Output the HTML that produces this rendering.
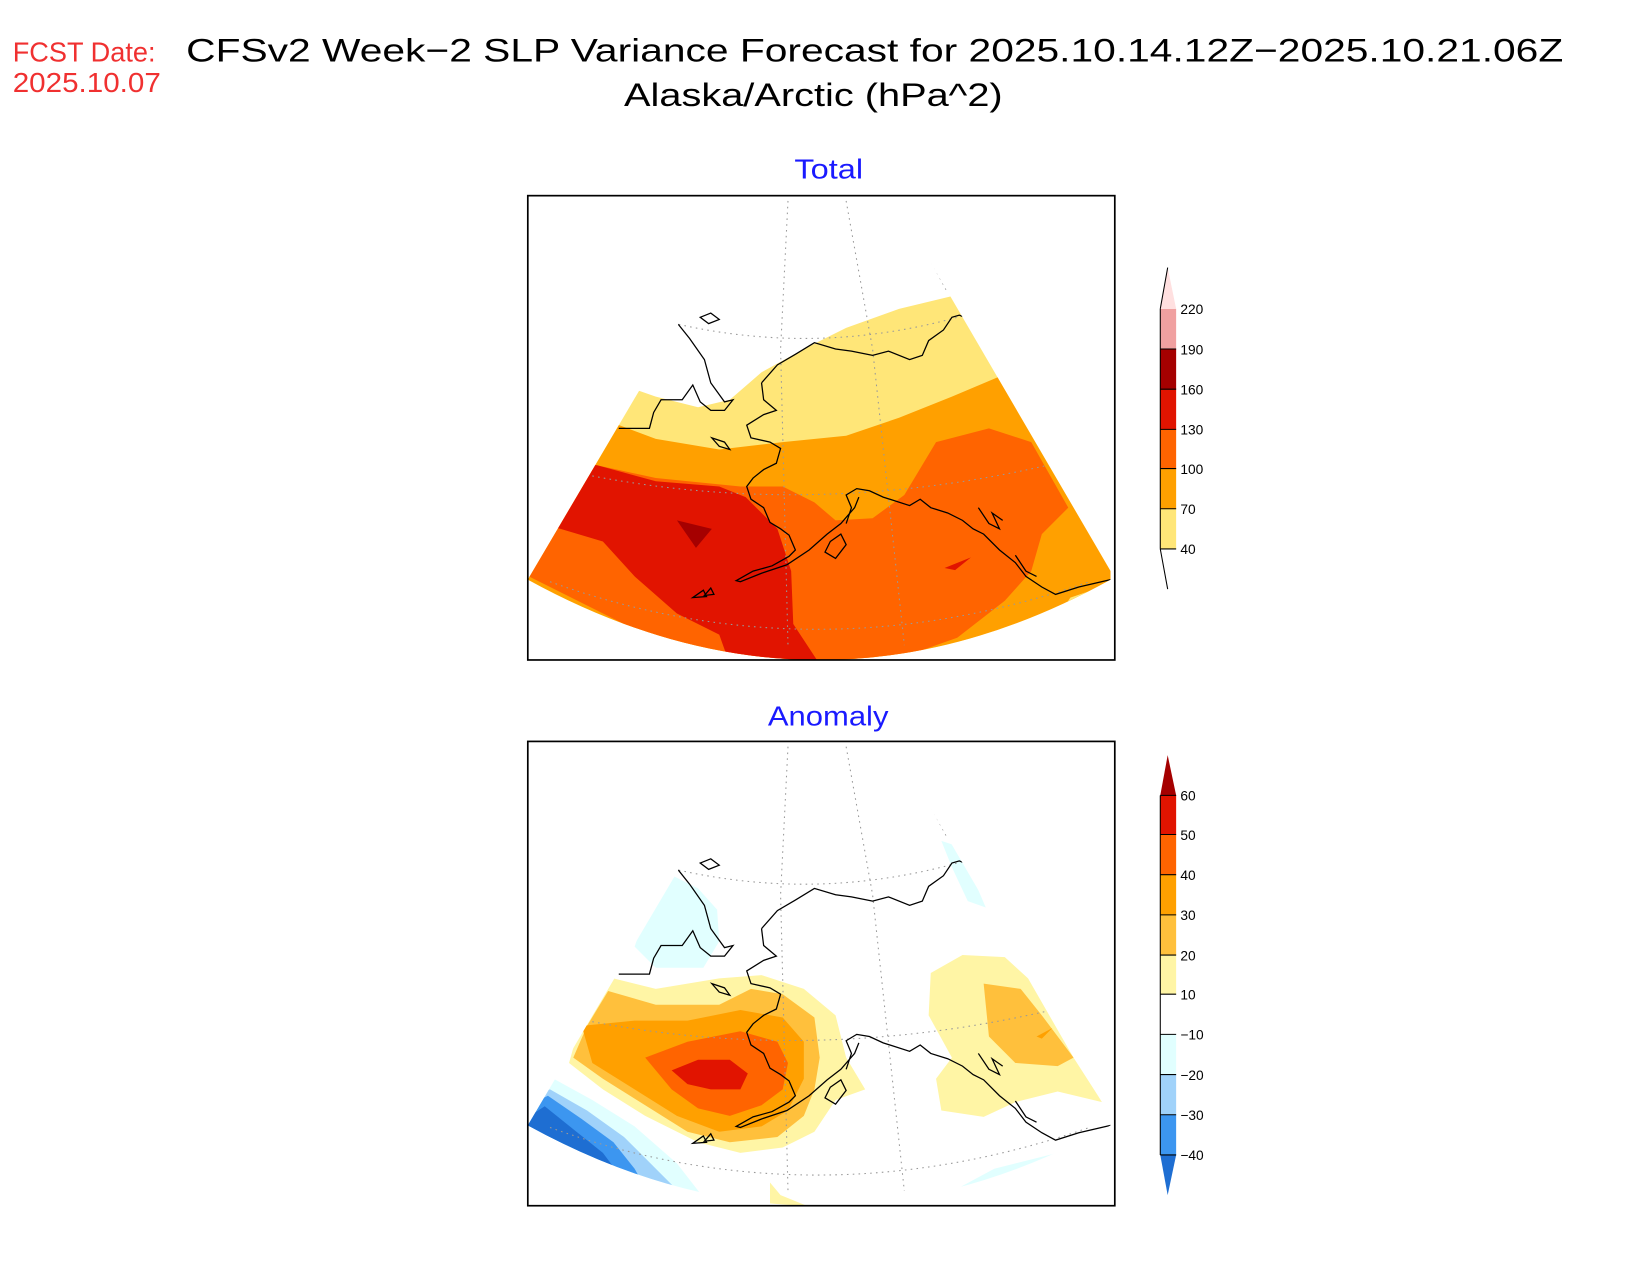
<!DOCTYPE html>
<html><head><meta charset="utf-8"><style>html,body{margin:0;padding:0;background:#fff}svg{display:block}</style></head>
<body>
<svg width="1650" height="1275" viewBox="0 0 1560 1205.5" xmlns="http://www.w3.org/2000/svg" font-family="Liberation Sans, DejaVu Sans, sans-serif">
<defs>
<clipPath id="w1"><path d="M713,185 L843,185 L1050,540 L1050,548 Q775,700 499,548 Z"/></clipPath>
<clipPath id="w2"><path d="M713,701 L843,701 L1050,1056 L1050,1064 Q775,1216 499,1064 Z"/></clipPath>
<g id="coast" fill="none" stroke="#000" stroke-width="1.2">
<polyline points="720,362 735,345 752,335 770,324 790,330 805,332 825,336 840,332 860,340 872,336 878,322 892,312 900,300 907,298 912,300"/>
<polyline points="720,362 722,378 734,388 722,392 706,402 710,414 728,418 738,424 734,438 722,444 712,452 706,460 710,472 722,480 728,494 738,500 746,506 752,520 746,526 730,535 712,540 696,549 700,550 720,542 744,534 765,520 782,505 795,495 808,480 812,470"/>
<polyline points="800,495 805,480 800,468 810,462 822,464 835,470 860,478 870,472 880,480 896,485 910,492 920,500 930,505 945,520 960,532 970,545 985,555 998,562 1020,555 1050,548"/>
<polyline points="640,305 652,320 666,340 672,362 685,380 693,378 685,388 672,388 662,380 655,364 645,378 625,378 618,390 614,405 585,405"/>
<polygon points="662,300 672,296 680,302 670,306"/>
<polygon points="673,414 685,418 690,425 680,422"/>
<polygon points="785,512 795,505 800,515 790,528 780,522"/>
<polygon points="655,565 665,558 668,564"/>
<polygon points="666,563 672,556 675,562"/>
<polyline points="925,480 935,495 945,500 938,485 948,492"/>
<polyline points="960,525 970,540 980,545"/>
</g>
<g id="grat" fill="none" stroke="#999" stroke-width="1" stroke-dasharray="1.5,4">
<path d="M705,190 L640,300"/><path d="M745,190 L738,330 L745,610"/><path d="M800,190 L825,330 L855,610"/><path d="M850,190 L895,275"/>
<path d="M615,300 Q760,340 905,300"/><path d="M560,450 Q770,490 990,440"/><path d="M520,550 Q770,640 1030,550"/>
</g>
</defs>
<rect width="1560" height="1206" fill="#fff"/>
<text x="12" y="58" font-size="26" fill="#f03030" textLength="135" lengthAdjust="spacingAndGlyphs">FCST Date:</text>
<text x="12" y="87" font-size="26" fill="#f03030" textLength="140" lengthAdjust="spacingAndGlyphs">2025.10.07</text>
<text x="176" y="58" font-size="31" fill="#000" textLength="1302" lengthAdjust="spacingAndGlyphs">CFSv2 Week−2 SLP Variance Forecast for 2025.10.14.12Z−2025.10.21.06Z</text>
<text x="590" y="100" font-size="31" fill="#000" textLength="358" lengthAdjust="spacingAndGlyphs">Alaska/Arctic (hPa^2)</text>
<text x="751" y="169" font-size="26" fill="#1a1aff" textLength="65" lengthAdjust="spacingAndGlyphs">Total</text>
<text x="726" y="686" font-size="26" fill="#1a1aff" textLength="114" lengthAdjust="spacingAndGlyphs">Anomaly</text>

<!-- Total map -->
<g clip-path="url(#w1)">
<path d="M600,368 L620,375 L660,385 L690,378 L720,352 L760,330 L800,310 L850,292 L900,280 L1060,280 L1060,700 L490,700 L490,368 Z" fill="#ffe678"/>
<path d="M580,400 L620,415 L680,425 L740,418 L800,412 L850,395 L900,375 L945,356 L1060,356 L1060,700 L490,700 L490,400 Z" fill="#ffa000"/>
<path d="M490,430 L565,440 L620,452 L700,460 L740,460 L770,475 L790,492 L825,490 L855,468 L885,418 L935,405 L975,418 L1010,480 L985,505 L975,540 L950,568 L905,603 L800,640 L690,640 L650,610 L600,595 L560,575 L520,555 L490,540 Z" fill="#ff6400"/>
<path d="M490,430 L565,440 L620,455 L680,460 L705,470 L735,500 L748,540 L750,590 L775,628 L690,628 L680,600 L640,580 L600,545 L570,512 L530,500 L490,490 Z" fill="#e11400"/>
<path d="M640,492 L673,500 L658,518 Z" fill="#a50000"/>
<path d="M893,537 L918,527 L903,539 Z" fill="#e11400"/>
<path d="M1000,583 L1012,565 L1050,552 L1060,560 L1060,700 Z" fill="#ffe678"/>
<use href="#grat"/>
<use href="#coast"/>
</g>
<rect x="499" y="185" width="555" height="439" fill="none" stroke="#000" stroke-width="1.6"/>

<!-- Total colorbar -->
<g stroke="#000" stroke-width="1">
<rect x="1097" y="481" width="15" height="38" fill="#ffe678" stroke="none"/>
<rect x="1097" y="443" width="15" height="38" fill="#ffa000" stroke="none"/>
<rect x="1097" y="406" width="15" height="37" fill="#ff6400" stroke="none"/>
<rect x="1097" y="368" width="15" height="38" fill="#e11400" stroke="none"/>
<rect x="1097" y="330" width="15" height="38" fill="#a50000" stroke="none"/>
<rect x="1097" y="292" width="15" height="38" fill="#f0a0a0" stroke="none"/>
<polygon points="1097,292 1112,292 1104,253" fill="#ffe0e0" stroke="none"/>
<path d="M1097,292 L1104,253 M1097,519 L1104,557 M1097,292 L1097,519" fill="none"/>
<path d="M1097,330 H1112 M1097,368 H1112 M1097,406 H1112 M1097,443 H1112 M1097,481 H1112 M1097,519 H1112"/>
</g>
<g font-size="13" fill="#000">
<text x="1116" y="297">220</text><text x="1116" y="335">190</text><text x="1116" y="373">160</text><text x="1116" y="411">130</text><text x="1116" y="448">100</text><text x="1116" y="486">70</text><text x="1116" y="524">40</text>
</g>

<!-- Anomaly map -->
<g clip-path="url(#w2)">
<path d="M630,825 L660,840 L678,860 L680,890 L665,915 L620,915 L600,895 L612,860 Z" fill="#e1ffff"/>
<path d="M890,795 L905,800 L920,830 L932,858 L915,852 L900,820 Z" fill="#e1ffff"/>
<path d="M880,920 L910,903 L950,905 L972,925 L1015,1000 L1042,1042 L1000,1032 L960,1042 L930,1056 L890,1050 L885,1020 L900,1000 L878,960 Z" fill="#fff5a5"/>
<path d="M930,930 L965,935 L985,960 L1015,1000 L1000,1008 L960,1005 L935,980 Z" fill="#ffc03c"/>
<path d="M980,980 L995,972 L985,982 Z" fill="#ffa000"/>
<path d="M580,925 L620,935 L680,925 L720,922 L760,935 L790,960 L800,1000 L818,1030 L790,1040 L770,1070 L740,1085 L700,1090 L660,1080 L610,1055 L570,1030 L538,1005 L545,980 L565,950 Z" fill="#fff5a5"/>
<path d="M575,937 L620,950 L680,950 L710,935 L740,940 L770,962 L775,1000 L770,1030 L760,1055 L735,1075 L690,1080 L650,1070 L610,1045 L570,1020 L542,1000 L555,970 Z" fill="#ffc03c"/>
<path d="M550,970 L600,965 L650,965 L700,955 L740,962 L760,985 L760,1020 L745,1050 L720,1065 L680,1070 L640,1055 L600,1030 L560,1005 Z" fill="#ffa000"/>
<path d="M610,1000 L650,985 L700,975 L735,985 L745,1005 L740,1030 L720,1045 L690,1055 L660,1048 L635,1030 Z" fill="#ff6400"/>
<path d="M635,1012 L660,1002 L690,1002 L707,1015 L700,1030 L672,1030 L650,1025 Z" fill="#e11400"/>
<path d="M490,1028 L520,1018 L560,1040 L600,1065 L640,1100 L675,1145 L490,1145 Z" fill="#e1ffff"/>
<path d="M490,1040 L520,1030 L555,1050 L590,1075 L615,1100 L645,1130 L655,1145 L490,1145 Z" fill="#a0d2fa"/>
<path d="M490,1050 L518,1036 L550,1058 L580,1080 L600,1105 L622,1145 L490,1145 Z" fill="#3c96f0"/>
<path d="M490,1062 L515,1046 L545,1070 L570,1090 L585,1110 L595,1145 L490,1145 Z" fill="#1e6ed2"/>
<path d="M890,1132 L940,1105 L1000,1090 L1035,1085 L1055,1068 L1060,1145 L880,1145 Z" fill="#e1ffff"/>
<path d="M930,1118 L972,1104 L945,1120 Z" fill="#a0d2fa"/>
<path d="M728,1118 L738,1130 L775,1145 L728,1145 Z" fill="#fff5a5"/>
<g transform="translate(0,516)"><use href="#grat"/><use href="#coast"/></g>
</g>
<rect x="499" y="701" width="555" height="439" fill="none" stroke="#000" stroke-width="1.6"/>

<!-- Anomaly colorbar -->
<g stroke="#000" stroke-width="1">
<polygon points="1097,752 1112,752 1104,714" fill="#a50000" stroke="none"/>
<rect x="1097" y="752" width="15" height="37" fill="#e11400" stroke="none"/>
<rect x="1097" y="789" width="15" height="38" fill="#ff6400" stroke="none"/>
<rect x="1097" y="827" width="15" height="38" fill="#ffa000" stroke="none"/>
<rect x="1097" y="865" width="15" height="38" fill="#ffc03c" stroke="none"/>
<rect x="1097" y="903" width="15" height="37" fill="#fff5a5" stroke="none"/>
<rect x="1097" y="978" width="15" height="38" fill="#e1ffff" stroke="none"/>
<rect x="1097" y="1016" width="15" height="38" fill="#a0d2fa" stroke="none"/>
<rect x="1097" y="1054" width="15" height="38" fill="#3c96f0" stroke="none"/>
<polygon points="1097,1092 1112,1092 1104,1130" fill="#1e6ed2" stroke="none"/>
<path d="M1097,752 V1092" fill="none"/>
<path d="M1097,752 H1112 M1097,789 H1112 M1097,827 H1112 M1097,865 H1112 M1097,903 H1112 M1097,940 H1112 M1097,978 H1112 M1097,1016 H1112 M1097,1054 H1112 M1097,1092 H1112"/>
</g>
<g font-size="13" fill="#000">
<text x="1116" y="757">60</text><text x="1116" y="794">50</text><text x="1116" y="832">40</text><text x="1116" y="870">30</text><text x="1116" y="908">20</text><text x="1116" y="945">10</text><text x="1116" y="983">−10</text><text x="1116" y="1021">−20</text><text x="1116" y="1059">−30</text><text x="1116" y="1097">−40</text>
</g>
</svg>
</body></html>
